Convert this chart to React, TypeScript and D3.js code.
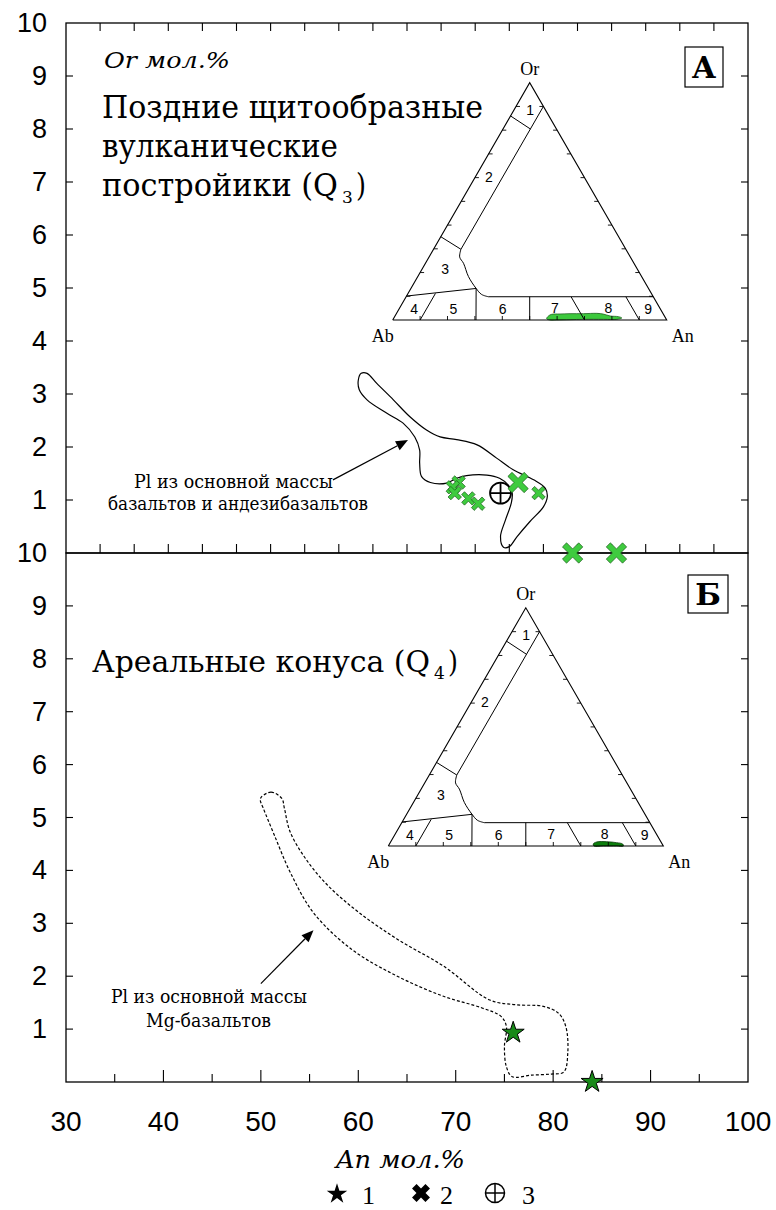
import React from "react";
import * as d3 from "d3";

// ---------------- data ----------------
const xTickLabels = [30, 40, 50, 60, 70, 80, 90, 100];
const xTickValues = [35, 40, 45, 50, 55, 60, 65, 70, 75, 80, 85, 90, 95];
const yTickLabels = [1, 2, 3, 4, 5, 6, 7, 8, 9, 10];
const yTickValues = [1, 2, 3, 4, 5, 6, 7, 8, 9];
const frameTickCount = 20;

// Panel A: outline of Pl from groundmass of basalts & andesibasalts  [An, Or]
const contourA: [number, number][] = [
  [60.3, 3.39], [60.9, 3.39], [61.9, 3.2], [63.6, 2.89], [65.3, 2.57], [67.0, 2.32],
  [68.4, 2.19], [70.1, 2.14], [72.2, 2.04], [74.2, 1.79], [75.9, 1.57], [78.0, 1.38],
  [79.2, 1.22], [79.4, 1.06], [79.0, 0.87], [77.6, 0.59], [76.3, 0.31], [75.5, 0.12],
  [74.9, 0.11], [74.6, 0.31], [75.1, 0.62], [75.7, 0.94], [75.8, 1.13], [75.4, 1.28],
  [74.5, 1.41], [73.2, 1.47], [71.1, 1.46], [70.1, 1.41], [69.1, 1.32], [67.4, 1.33],
  [66.5, 1.44], [66.3, 1.69], [66.3, 1.94], [65.8, 2.19], [64.6, 2.45], [62.9, 2.64],
  [60.9, 2.89], [60.1, 3.08], [60.0, 3.26],
];

// Panel Б: outline of Pl from groundmass of Mg-basalts  [An, Or]
const contourB: [number, number][] = [
  [50.06, 5.39], [51.05, 5.48], [52.15, 5.36], [52.42, 5.17], [53.0, 4.73], [54.6, 4.22],
  [56.9, 3.71], [60.1, 3.2], [64.0, 2.7], [68.75, 2.19], [73.5, 1.55], [76.2, 1.46],
  [79.0, 1.43], [80.55, 1.3], [81.3, 1.05], [81.5, 0.54], [81.1, 0.19], [79.8, 0.15],
  [77.8, 0.13], [75.8, 0.1], [75.2, 0.29], [75.0, 0.67], [75.2, 1.05], [74.65, 1.24],
  [72.7, 1.4], [68.75, 1.62], [64.0, 2.0], [59.3, 2.51], [55.4, 3.2], [53.0, 3.97],
  [51.4, 4.66], [50.26, 5.17], [49.94, 5.33],
];

// series 2 (crosses), panel A  [An, Or]
const crossesLargeA: [number, number][] = [[76.4, 1.33], [82.0, 0.0], [86.5, 0.0]];
const crossesSmallA: [number, number][] = [
  [78.5, 1.13], [70.3, 1.33], [69.7, 1.24], [69.9, 1.13], [71.3, 1.03], [72.3, 0.93],
];
// series 3 (circle-cross), panel A
const circlesA: [number, number][] = [[74.6, 1.13]];
// series 1 (stars), panel Б
const starsB: [number, number][] = [[75.9, 0.93], [84.0, 0.0]];

// arrows [tail, head] in [An, Or]
const arrowA: [number, number][] = [[57.4, 1.38], [65.1, 2.13]];
const arrowB: [number, number][] = [[50.0, 1.86], [55.4, 2.87]];

// ternary Or-Ab-An: boundaries [An%, Or%]
const ternaryLines: [number, number][][] = [
  [[10, 90], [10, 29.8]],
  [[0, 86], [10, 80.5]],
  [[0, 35.1], [10, 29.8]],
  [[30, 9.8], [90.2, 9.8]],
  [[0, 10.1], [23.8, 13.3]],
  [[10, 0], [10, 11.2]],
  [[30.4, 0], [23.8, 13.3]],
  [[50, 0], [45.1, 9.8]],
  [[70, 0], [60.2, 9.8]],
  [[90, 0], [80.2, 9.8]],
];
const ternaryCurve: [number, number][] = [
  [10, 29.8], [11.2, 26.5], [13.9, 23.9], [18.5, 18.3], [23.8, 13.3], [27, 10.8], [30, 9.8],
];
const ternaryFieldLabels = [
  { t: "1", an: 5.9, or: 88.5 }, { t: "2", an: 4.9, or: 60.4 }, { t: "3", an: 8.4, or: 21.4 },
  { t: "4", an: 5.6, or: 4.5 }, { t: "5", an: 19.9, or: 4.5 }, { t: "6", an: 37.9, or: 4.5 },
  { t: "7", an: 56.6, or: 5.2 }, { t: "8", an: 76.1, or: 5.2 }, { t: "9", an: 91.0, or: 4.5 },
];
const ternaryTicks = [10, 20, 30, 40, 50, 60, 70, 80, 90];
// composition fields inside the ternaries [An%, Or%]
const fieldA: [number, number][] = [
  [56.0, 1.69], [56.8, 2.39], [59.8, 2.53], [63.4, 2.67], [68.3, 2.67], [73.1, 2.8],
  [75.6, 2.5], [78.5, 1.69], [81.7, 1.4], [83.2, 0.84], [81.7, 0.28], [76.8, 0.28],
  [69.4, 0.28], [64.7, 0.14], [59.9, 0.0], [57.4, 0.0], [55.9, 0.56],
];
const fieldB: [number, number][] = [
  [74.1, 0.84], [74.9, 1.68], [78.5, 1.8], [82.3, 1.4], [84.8, 0.84], [85.5, 0.0],
  [83.0, 0.0], [78.2, 0.0], [74.8, 0.0],
];

// ---------------- drawing ----------------
const SERIF = "'Liberation Serif', 'Times New Roman', serif";
const CYR = "'DejaVu Serif', 'Liberation Serif', serif";
const SANS = "'Liberation Sans', Arial, sans-serif";

const L = 66, R = 748, T = 23, M = 553, B = 1082;

function crossPath(cx: number, cy: number, h: number, w: number) {
  const pts = [
    [w, h], [w, w], [h, w], [h, -w], [w, -w], [w, -h],
    [-w, -h], [-w, -w], [-h, -w], [-h, w], [-w, w], [-w, h],
  ];
  const c = Math.SQRT1_2;
  return (
    "M" +
    pts
      .map(([px, py]) => [cx + (px - py) * c, cy + (px + py) * c])
      .map((p) => p[0].toFixed(2) + "," + p[1].toFixed(2))
      .join("L") +
    "Z"
  );
}

function Arrow({ x1, y1, x2, y2 }: { x1: number; y1: number; x2: number; y2: number }) {
  const a = Math.atan2(y2 - y1, x2 - x1);
  const len = 12, hw = 5;
  const bx = x2 - len * Math.cos(a), by = y2 - len * Math.sin(a);
  const p1 = [bx + hw * Math.sin(a), by - hw * Math.cos(a)];
  const p2 = [bx - hw * Math.sin(a), by + hw * Math.cos(a)];
  return (
    <g>
      <line x1={x1} y1={y1} x2={bx} y2={by} stroke="#000" strokeWidth={1.2} />
      <path d={`M${x2},${y2}L${p1[0]},${p1[1]}L${p2[0]},${p2[1]}Z`} fill="#000" />
    </g>
  );
}

function Ternary({ ox, oy, s, field, fill, stroke }: {
  ox: number; oy: number; s: number; field: [number, number][]; fill: string; stroke: string;
}) {
  const h = (s * Math.sqrt(3)) / 2;
  const P = (an: number, or: number): [number, number] => [ox + s * (an / 100 + or / 200), oy - (h * or) / 100];
  const line = d3.line<[number, number]>().x((d) => P(d[0], d[1])[0]).y((d) => P(d[0], d[1])[1]);
  const curve = d3.line<[number, number]>().x((d) => P(d[0], d[1])[0]).y((d) => P(d[0], d[1])[1]).curve(d3.curveCatmullRom);
  const blob = d3.line<[number, number]>().x((d) => P(d[0], d[1])[0]).y((d) => P(d[0], d[1])[1]).curve(d3.curveCatmullRomClosed);
  const tri: [number, number][] = [[0, 0], [100, 0], [0, 100], [0, 0]];
  return (
    <g>
      <path d={blob(field) || ""} fill={fill} stroke={stroke} strokeWidth={0.8} />
      <path d={line(tri) || ""} fill="none" stroke="#000" strokeWidth={1.1} strokeLinejoin="miter" />
      {ternaryLines.map((l, i) => (
        <path key={i} d={line(l) || ""} fill="none" stroke="#000" strokeWidth={1} />
      ))}
      <path d={curve(ternaryCurve) || ""} fill="none" stroke="#000" strokeWidth={1} />
      {ternaryTicks.map((t) => {
        const [bx, by] = P(t, 0);
        const [lx, ly] = P(0, t);
        const [rx, ry] = P(100 - t, t);
        return (
          <g key={t} stroke="#000" strokeWidth={0.9}>
            <line x1={bx} y1={by} x2={bx} y2={by - 4} />
            <line x1={lx} y1={ly} x2={lx + 4} y2={ly} />
            <line x1={rx} y1={ry} x2={rx - 4} y2={ry} />
          </g>
        );
      })}
      {ternaryFieldLabels.map((d) => {
        const [px, py] = P(d.an, d.or);
        return (
          <text key={d.t} x={px} y={py} fontFamily={SANS} fontSize={14} textAnchor="middle" dominantBaseline="central">
            {d.t}
          </text>
        );
      })}
      <text x={P(0, 100)[0]} y={P(0, 100)[1] - 8} fontFamily={SERIF} fontSize={18} textAnchor="middle">Or</text>
      <text x={ox - 10} y={oy + 22} fontFamily={SERIF} fontSize={18} textAnchor="middle">Ab</text>
      <text x={ox + s + 16} y={oy + 22} fontFamily={SERIF} fontSize={18} textAnchor="middle">An</text>
    </g>
  );
}

function SubTitle({ x, y, main, len, sub, fs }: { x: number; y: number; main: string; len: number; sub: string; fs: number }) {
  return (
    <g fontFamily={CYR}>
      <text x={x} y={y} fontSize={fs} textLength={len} lengthAdjust="spacingAndGlyphs">{main}</text>
      <text x={x + len + 4} y={y + 7} fontSize={17}>{sub}</text>
      <text x={x + len + 18} y={y} fontSize={fs} textLength={10} lengthAdjust="spacingAndGlyphs">)</text>
    </g>
  );
}

export default function App() {
  const x = d3.scaleLinear().domain([30, 100]).range([L, R]);
  const yA = d3.scaleLinear().domain([0, 10]).range([M, T]);
  const yB = d3.scaleLinear().domain([0, 10]).range([B, M]);
  const fx = d3.scaleLinear().domain([0, frameTickCount]).range([L, R]);

  const lineA = d3.line<[number, number]>().x((d) => x(d[0])).y((d) => yA(d[1])).curve(d3.curveCatmullRomClosed.alpha(0.5));
  const lineB = d3.line<[number, number]>().x((d) => x(d[0])).y((d) => yB(d[1])).curve(d3.curveCatmullRomClosed.alpha(0.5));
  const star = d3.symbol().type(d3.symbolStar);

  const frameTicks = d3.range(1, frameTickCount);
  const fit = { lengthAdjust: "spacingAndGlyphs" as const };

  return (
    <svg width={776} height={1210} style={{ position: "absolute", left: 0, top: 0, background: "#fff" }}>
      <rect x={0} y={0} width={776} height={1210} fill="#fff" />

      {/* frames */}
      <rect x={L} y={T} width={R - L} height={M - T} fill="none" stroke="#000" strokeWidth={1.3} />
      <rect x={L} y={M} width={R - L} height={B - M} fill="none" stroke="#000" strokeWidth={1.3} />

      {/* frame ticks (top of panel A, bottom of panel A) */}
      {frameTicks.map((t) => (
        <g key={t} stroke="#000" strokeWidth={1.1}>
          <line x1={fx(t)} y1={T} x2={fx(t)} y2={T + 8} />
          <line x1={fx(t)} y1={M} x2={fx(t)} y2={M - 9} />
        </g>
      ))}
      {/* bottom axis ticks */}
      {xTickValues.map((t) => (
        <line key={t} x1={x(t)} y1={B} x2={x(t)} y2={B - (t % 10 === 0 ? 12 : 8)} stroke="#000" strokeWidth={1.1} />
      ))}
      {/* y ticks both panels, left and right */}
      {yTickValues.map((t) => (
        <g key={t} stroke="#000" strokeWidth={1.1}>
          <line x1={L} y1={yA(t)} x2={L + 7} y2={yA(t)} />
          <line x1={R} y1={yA(t)} x2={R - 7} y2={yA(t)} />
          <line x1={L} y1={yB(t)} x2={L + 7} y2={yB(t)} />
          <line x1={R} y1={yB(t)} x2={R - 7} y2={yB(t)} />
        </g>
      ))}

      {/* y tick labels */}
      {yTickLabels.map((t) => (
        <g key={t} fontFamily={SANS} fontSize={27} textAnchor="end">
          <text x={47} y={yA(t)} dominantBaseline="central">{t}</text>
          <text x={47} y={yB(t)} dominantBaseline="central">{t}</text>
        </g>
      ))}
      {/* x tick labels */}
      {xTickLabels.map((t) => (
        <text key={t} x={x(t)} y={1131} fontFamily={SANS} fontSize={28} textAnchor="middle">{t}</text>
      ))}
      <text x={336} y={1168} fontFamily={CYR} fontSize={24} fontStyle="italic" textLength={129} {...fit}>An мол.%</text>
      <text x={104} y={68} fontFamily={CYR} fontSize={23} fontStyle="italic" textLength={126} {...fit}>Or мол.%</text>

      {/* titles */}
      <g fontFamily={CYR} fontSize={31}>
        <text x={102} y={118} textLength={381} {...fit}>Поздние щитообразные</text>
        <text x={102} y={157} textLength={236} {...fit}>вулканические</text>
      </g>
      <SubTitle x={102} y={196} main="постройики (Q" len={236} sub="3" fs={31} />
      <SubTitle x={92} y={672} main="Ареальные конуса (Q" len={338} sub="4" fs={29} />

      {/* panel letters */}
      <rect x={685} y={47} width={38} height={40} fill="#fff" stroke="#000" strokeWidth={1.2} />
      <text x={704} y={78} fontFamily={CYR} fontSize={30} fontWeight="bold" textAnchor="middle">А</text>
      <rect x={688} y={575} width={40} height={38} fill="#fff" stroke="#000" strokeWidth={1.2} />
      <text x={708} y={605} fontFamily={CYR} fontSize={30} fontWeight="bold" textAnchor="middle">Б</text>

      {/* ternaries */}
      <Ternary ox={392.7} oy={320} s={274} field={fieldA} fill="#3cc83c" stroke="#1f5f1f" />
      <Ternary ox={388.3} oy={846} s={275} field={fieldB} fill="#0d7f0d" stroke="#063806" />

      {/* contours */}
      <path d={lineA(contourA) || ""} fill="none" stroke="#000" strokeWidth={1.2} />
      <path d={lineB(contourB) || ""} fill="none" stroke="#000" strokeWidth={1.2} strokeDasharray="3,2" />

      {/* annotations */}
      <Arrow x1={x(arrowA[0][0])} y1={yA(arrowA[0][1])} x2={x(arrowA[1][0])} y2={yA(arrowA[1][1])} />
      <Arrow x1={x(arrowB[0][0])} y1={yB(arrowB[0][1])} x2={x(arrowB[1][0])} y2={yB(arrowB[1][1])} />
      <g fontFamily={CYR} fontSize={19}>
        <text x={134} y={488} textLength={199} {...fit}>Pl из основной массы</text>
        <text x={108} y={510} textLength={260} {...fit}>базальтов и андезибазальтов</text>
        <text x={111} y={1003} textLength={196} {...fit}>Pl из основной массы</text>
        <text x={146} y={1027} textLength={125} {...fit}>Mg-базальтов</text>
      </g>

      {/* markers */}
      {circlesA.map((d, i) => (
        <g key={i} stroke="#000" strokeWidth={1.8} fill="none">
          <circle cx={x(d[0])} cy={yA(d[1])} r={10.5} />
          <line x1={x(d[0]) - 10.5} y1={yA(d[1])} x2={x(d[0]) + 10.5} y2={yA(d[1])} />
          <line x1={x(d[0])} y1={yA(d[1]) - 10.5} x2={x(d[0])} y2={yA(d[1]) + 10.5} />
        </g>
      ))}
      {crossesSmallA.map((d, i) => (
        <path key={"s" + i} d={crossPath(x(d[0]), yA(d[1]), 7.5, 2)} fill="#3fcb3f" stroke="#1c5a1c" strokeWidth={0.7} />
      ))}
      {crossesLargeA.map((d, i) => (
        <path key={"l" + i} d={crossPath(x(d[0]), yA(d[1]), 11.5, 2.9)} fill="#3fcb3f" stroke="#1c5a1c" strokeWidth={0.7} />
      ))}
      {starsB.map((d, i) => (
        <path key={i} d={star.size(150)() || ""} transform={`translate(${x(d[0])},${yB(d[1])})`} fill="#188a18" stroke="#000" strokeWidth={1} />
      ))}

      {/* legend */}
      <g>
        <path d={star.size(130)() || ""} transform="translate(337,1194)" fill="#000" />
        <text x={362} y={1204} fontFamily={SERIF} fontSize={26}>1</text>
        <path d={crossPath(421, 1193, 9.5, 3.2)} fill="#000" />
        <text x={440} y={1204} fontFamily={SERIF} fontSize={26}>2</text>
        <g stroke="#000" strokeWidth={1.5} fill="none">
          <circle cx={495} cy={1193} r={9.5} />
          <line x1={485.5} y1={1193} x2={504.5} y2={1193} />
          <line x1={495} y1={1183.5} x2={495} y2={1202.5} />
        </g>
        <text x={522} y={1204} fontFamily={SERIF} fontSize={26}>3</text>
      </g>
    </svg>
  );
}
